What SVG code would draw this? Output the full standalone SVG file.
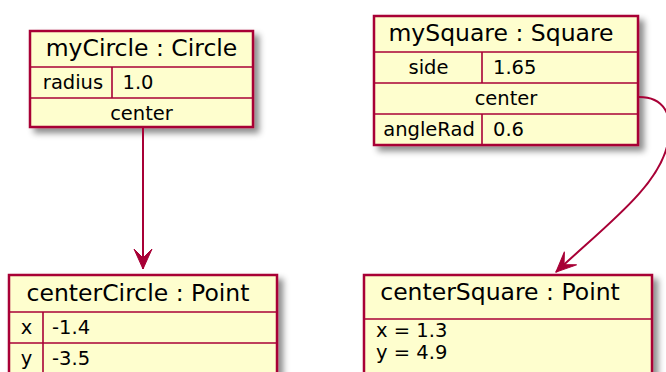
<svg xmlns="http://www.w3.org/2000/svg" width="666" height="372" viewBox="0 0 666 372">
  <style>
    .box { fill: #FEFECE; stroke: #A80036; stroke-width: 2.5; }
    .sep { stroke: #A80036; stroke-width: 1.6; fill: none; }
    .title { font-family: "DejaVu Sans", sans-serif; font-size: 23.5px; fill: #000; }
    .field { font-family: "DejaVu Sans", sans-serif; font-size: 19.5px; fill: #000; }
    .mid { text-anchor: middle; }
    .link { stroke: #A80036; stroke-width: 2; fill: none; }
  </style>
  <defs>
    <filter id="shadow" x="-10%" y="-10%" width="130%" height="130%">
      <feGaussianBlur in="SourceAlpha" stdDeviation="3"/>
      <feOffset dx="5" dy="5" result="blur"/>
      <feFlood flood-color="#000" flood-opacity="0.45"/>
      <feComposite in2="blur" operator="in"/>
      <feMerge>
        <feMergeNode/>
        <feMergeNode in="SourceGraphic"/>
      </feMerge>
    </filter>
    <marker id="arrow" markerUnits="userSpaceOnUse" markerWidth="24" markerHeight="24" viewBox="-22 -11 24 22" refX="0" refY="0" orient="auto">
      <polygon points="0,0 -20,-9 -11,0 -20,9" fill="#A80036" stroke="#A80036" stroke-width="1"/>
    </marker>
  </defs>

  <!-- object: myCircle -->
  <g id="myCircle">
    <rect class="box" x="30" y="31" width="223" height="96" filter="url(#shadow)"/>
    <line class="sep" x1="30" y1="67" x2="253" y2="67"/>
    <line class="sep" x1="30" y1="98" x2="253" y2="98"/>
    <line class="sep" x1="112" y1="67" x2="112" y2="98"/>
    <text class="title mid" x="141.5" y="56">myCircle : Circle</text>
    <text class="field mid" x="73" y="88.5">radius</text>
    <text class="field" x="122.5" y="88.5">1.0</text>
    <text class="field mid" x="141.5" y="119.5">center</text>
  </g>

  <!-- object: mySquare -->
  <g id="mySquare">
    <rect class="box" x="374" y="16" width="264" height="129" filter="url(#shadow)"/>
    <line class="sep" x1="374" y1="52" x2="638" y2="52"/>
    <line class="sep" x1="374" y1="83" x2="638" y2="83"/>
    <line class="sep" x1="374" y1="114" x2="638" y2="114"/>
    <line class="sep" x1="482" y1="52" x2="482" y2="83"/>
    <line class="sep" x1="482" y1="114" x2="482" y2="145"/>
    <text class="title mid" x="501" y="41">mySquare : Square</text>
    <text class="field mid" x="428.5" y="73.5">side</text>
    <text class="field" x="493" y="73.5">1.65</text>
    <text class="field mid" x="506" y="104.5">center</text>
    <text class="field mid" x="429" y="135.5">angleRad</text>
    <text class="field" x="493" y="135.5">0.6</text>
  </g>

  <!-- object: centerCircle -->
  <g id="centerCircle">
    <rect class="box" x="9" y="275" width="268" height="100" filter="url(#shadow)"/>
    <line class="sep" x1="9" y1="312" x2="277" y2="312"/>
    <line class="sep" x1="9" y1="343" x2="277" y2="343"/>
    <line class="sep" x1="43" y1="312" x2="43" y2="375"/>
    <text class="title mid" x="138" y="301">centerCircle : Point</text>
    <text class="field mid" x="26.5" y="334">x</text>
    <text class="field" x="52" y="334">-1.4</text>
    <text class="field mid" x="26.5" y="365">y</text>
    <text class="field" x="52" y="365">-3.5</text>
  </g>

  <!-- object: centerSquare -->
  <g id="centerSquare">
    <rect class="box" x="364" y="275" width="288" height="100" filter="url(#shadow)"/>
    <line class="sep" x1="364" y1="319" x2="652" y2="319" stroke-width="2.5"/>
    <text class="title mid" x="500" y="300">centerSquare : Point</text>
    <text class="field" x="376" y="337">x = 1.3</text>
    <text class="field" x="376" y="359">y = 4.9</text>
  </g>

  <!-- links -->
  <g id="links">
    <path class="link" d="M639,97 C663,97 674,114 668,142 C660,186 605,226 556,272" marker-end="url(#arrow)"/>
    <path class="link" d="M143,128 L143,269" marker-end="url(#arrow)"/>
  </g>
</svg>
